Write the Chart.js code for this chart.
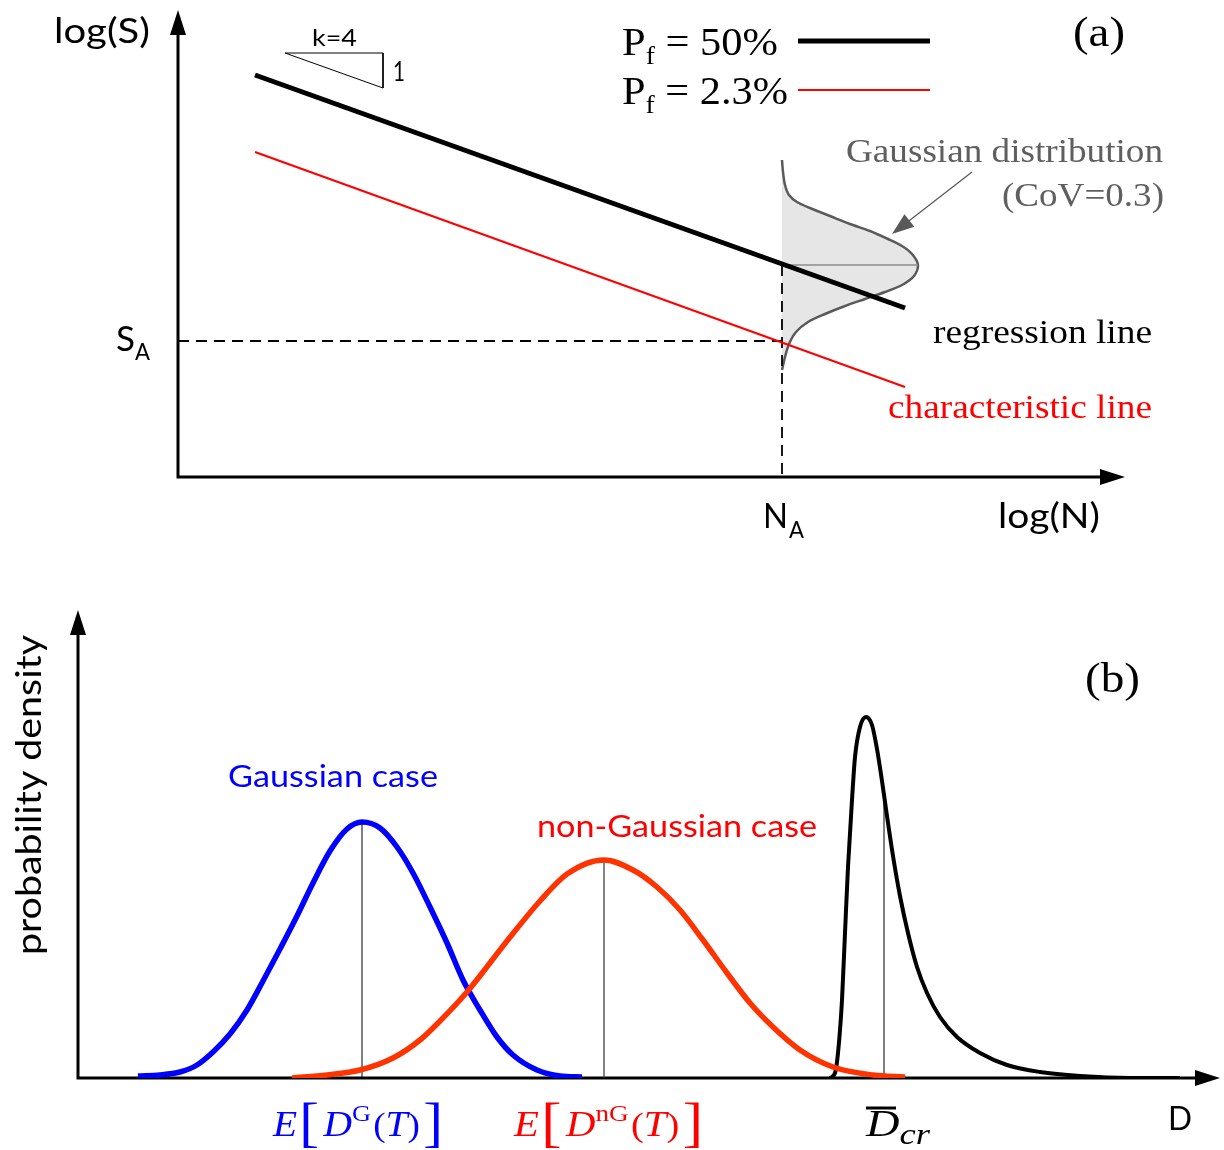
<!DOCTYPE html>
<html>
<head>
<meta charset="utf-8">
<script src="https://cdn.jsdelivr.net/npm/chart.js@4.4.0/dist/chart.umd.min.js"></script>
<style>
  html, body { margin: 0; padding: 0; background: #fff; }
  #wrap { position: relative; width: 1224px; height: 1150px; }
  canvas { position: absolute; left: 0; top: 0; }
</style>
</head>
<body>
<div id="wrap">
  <canvas id="snChart" width="1224" height="1150"></canvas>
  <canvas id="pdfChart" width="1224" height="1150"></canvas>
</div>
<script>
"use strict";

// ---- (a) S-N curve, both axes in log units ----
const regressionX = [0.77, 7.27];
const regressionY = [4.02, 1.69];
const characteristicX = [0.77, 7.27];
const characteristicY = [3.25, 0.90];
const logSA = 1.36;
const logNA = 6.04;
// scatter of log(S) at N_A, drawn sideways from the N_A line
const scatterX = [6.04, 6.05, 6.07, 6.11, 6.19, 6.32, 6.52, 6.72, 6.92, 7.10, 7.24, 7.34, 7.40,
                  7.36, 7.24, 7.07, 6.87, 6.67, 6.47, 6.30, 6.18, 6.11, 6.07, 6.04];
const scatterY = [3.17, 3.05, 2.92, 2.82, 2.75, 2.69, 2.61, 2.53, 2.46, 2.38, 2.31, 2.23, 2.12,
                  2.01, 1.92, 1.85, 1.78, 1.71, 1.63, 1.55, 1.45, 1.33, 1.20, 1.07];
const scatterMean = 2.12;
// slope triangle k=4
const slopeX = [1.07, 2.05, 2.05, 1.07];
const slopeY = [4.24, 4.24, 3.89, 4.24];

// ---- (b) damage densities ----
const gaussD = [0.60, 0.82, 1.02, 1.19, 1.35, 1.52, 1.69, 1.85, 2.02, 2.19, 2.35, 2.52, 2.69, 2.84,
                3.02, 3.19, 3.35, 3.52, 3.69, 3.85, 4.02, 4.19, 4.35, 4.59, 4.82, 5.04];
const gaussP = [0.02, 0.03, 0.06, 0.13, 0.26, 0.44, 0.68, 0.97, 1.29, 1.62, 1.95, 2.27, 2.49, 2.56,
                2.50, 2.31, 2.05, 1.71, 1.35, 0.98, 0.68, 0.41, 0.23, 0.08, 0.02, 0.01];
const nonGaussD = [2.14, 2.49, 2.82, 3.15, 3.42, 3.62, 3.89, 4.29, 4.62, 4.89, 5.26, 5.55, 5.79,
                   6.02, 6.25, 6.49, 6.72, 6.95, 7.22, 7.55, 7.95, 8.27];
const nonGaussP = [0.00, 0.03, 0.08, 0.20, 0.38, 0.57, 0.86, 1.37, 1.77, 2.04, 2.18, 2.08, 1.91,
                   1.68, 1.38, 1.05, 0.75, 0.51, 0.28, 0.11, 0.03, 0.01];
const critD = [7.52, 7.57, 7.60, 7.64, 7.67, 7.70, 7.74, 7.77, 7.82, 7.88, 7.94, 7.99, 8.04, 8.09,
               8.15, 8.22, 8.30, 8.39, 8.49, 8.62, 8.79, 9.02, 9.29, 9.62, 10.02, 10.52, 11.02];
const critP = [0.00, 0.05, 0.25, 0.78, 1.45, 2.11, 2.78, 3.21, 3.51, 3.61, 3.53, 3.29, 2.97, 2.62,
               2.22, 1.82, 1.45, 1.11, 0.85, 0.61, 0.41, 0.25, 0.13, 0.06, 0.02, 0.00, 0.00];
const meanGauss = 2.84;
const meanNonGauss = 5.26;
const meanCrit = 8.06;

const pts = (xs, ys) => xs.map((x, i) => ({ x: x, y: ys[i] }));

function valueAt(xs, ys, x) {
  for (let i = 1; i < xs.length; i++) {
    if (x <= xs[i]) {
      const t = (x - xs[i - 1]) / (xs[i] - xs[i - 1]);
      return ys[i - 1] + t * (ys[i] - ys[i - 1]);
    }
  }
  return ys[ys.length - 1];
}

const SANS = "Lato, 'Open Sans', sans-serif";
const SERIF = "'Liberation Serif', 'DejaVu Serif', serif";

// draw a run of text pieces squeezed/stretched to fit between x0 and x1
function drawParts(ctx, parts, x0, x1, base, color) {
  ctx.save();
  ctx.fillStyle = color;
  ctx.textBaseline = "alphabetic";
  let total = 0;
  const widths = parts.map((p) => {
    ctx.font = p.font;
    const w = ctx.measureText(p.t).width + (p.gap || 0);
    total += w;
    return w;
  });
  ctx.translate(x0, base);
  ctx.scale((x1 - x0) / total, 1);
  let cx = 0;
  parts.forEach((p, i) => {
    ctx.font = p.font;
    ctx.fillText(p.t, cx, p.dy || 0);
    cx += widths[i];
  });
  ctx.restore();
}

function drawText(ctx, t, font, x0, x1, base, color) {
  drawParts(ctx, [{ t: t, font: font }], x0, x1, base, color);
}

// axes with arrow heads along the left and bottom edge of the chart area
const arrowAxes = {
  id: "arrowAxes",
  beforeDatasetsDraw(chart, args, opts) {
    const { ctx, chartArea: a } = chart;
    const h = opts.head, w = opts.half;
    ctx.save();
    ctx.strokeStyle = "#000";
    ctx.fillStyle = "#000";
    ctx.lineWidth = opts.width;
    ctx.beginPath();
    ctx.moveTo(a.left, a.top + h - 2);
    ctx.lineTo(a.left, a.bottom);
    ctx.lineTo(a.right - h + 2, a.bottom);
    ctx.stroke();
    ctx.beginPath();
    ctx.moveTo(a.left, a.top);
    ctx.lineTo(a.left - w, a.top + h);
    ctx.lineTo(a.left + w, a.top + h);
    ctx.closePath();
    ctx.fill();
    ctx.beginPath();
    ctx.moveTo(a.right, a.bottom);
    ctx.lineTo(a.right - h, a.bottom - w);
    ctx.lineTo(a.right - h, a.bottom + w);
    ctx.closePath();
    ctx.fill();
    ctx.restore();
  }
};

const snLabels = {
  id: "snLabels",
  afterDraw(chart) {
    const ctx = chart.ctx;
    const xs = chart.scales.x, ys = chart.scales.y;

    drawText(ctx, "log(S)", "34px " + SANS, 54, 150, 43, "#000");
    drawText(ctx, "log(N)", "34px " + SANS, 998, 1100, 528, "#000");
    drawText(ctx, "k=4", "24px " + SANS, 312, 357, 46, "#000");
    drawText(ctx, "1", "26px " + SANS, 393, 405, 81, "#000");

    const ySA = ys.getPixelForValue(logSA);
    drawText(ctx, "S", "34px " + SANS, 116, 135, ySA + 10, "#000");
    drawText(ctx, "A", "24px " + SANS, 135, 150, ySA + 19, "#000");
    const xNA = xs.getPixelForValue(logNA);
    drawText(ctx, "N", "34px " + SANS, xNA - 19, xNA + 6, 528, "#000");
    drawText(ctx, "A", "24px " + SANS, xNA + 7, xNA + 22, 538, "#000");

    // legend
    drawParts(ctx, [
      { t: "P", font: "40px " + SERIF },
      { t: "f", font: "26px " + SERIF, dy: 9 },
      { t: " = 50%", font: "40px " + SERIF }
    ], 622, 778, 55, "#000");
    drawParts(ctx, [
      { t: "P", font: "40px " + SERIF },
      { t: "f", font: "26px " + SERIF, dy: 9 },
      { t: " = 2.3%", font: "40px " + SERIF }
    ], 622, 788, 104, "#000");
    ctx.save();
    ctx.strokeStyle = "#000";
    ctx.lineWidth = 5;
    ctx.beginPath(); ctx.moveTo(798, 41); ctx.lineTo(930, 41); ctx.stroke();
    ctx.strokeStyle = "#ff0000";
    ctx.lineWidth = 2.2;
    ctx.beginPath(); ctx.moveTo(798, 90); ctx.lineTo(930, 90); ctx.stroke();
    ctx.restore();

    drawText(ctx, "(a)", "42px " + SERIF, 1073, 1125, 46, "#000");
    drawText(ctx, "Gaussian distribution", "34px " + SERIF, 846, 1163, 162, "#5f5f5f");
    drawText(ctx, "(CoV=0.3)", "34px " + SERIF, 1002, 1164, 206, "#5f5f5f");
    drawText(ctx, "regression line", "34px " + SERIF, 933, 1152, 343, "#000");
    drawText(ctx, "characteristic line", "34px " + SERIF, 888, 1152, 418, "#ff0000");

    // pointer to the scatter curve
    ctx.save();
    ctx.strokeStyle = "#595959";
    ctx.fillStyle = "#595959";
    ctx.lineWidth = 1.3;
    const tx = 892, ty = 234, sx = 972, sy = 172;
    const ang = Math.atan2(ty - sy, tx - sx);
    ctx.beginPath(); ctx.moveTo(sx, sy); ctx.lineTo(tx - 18 * Math.cos(ang), ty - 18 * Math.sin(ang)); ctx.stroke();
    ctx.beginPath();
    ctx.moveTo(tx, ty);
    ctx.lineTo(tx - 22 * Math.cos(ang) + 8 * Math.sin(ang), ty - 22 * Math.sin(ang) - 8 * Math.cos(ang));
    ctx.lineTo(tx - 22 * Math.cos(ang) - 8 * Math.sin(ang), ty - 22 * Math.sin(ang) + 8 * Math.cos(ang));
    ctx.closePath();
    ctx.fill();
    ctx.restore();
  }
};

const pdfLabels = {
  id: "pdfLabels",
  afterDraw(chart) {
    const ctx = chart.ctx;
    const xs = chart.scales.x;

    ctx.save();
    ctx.translate(41, 955);
    ctx.rotate(-Math.PI / 2);
    drawText(ctx, "probability density", "34px " + SANS, 0, 320, 0, "#000");
    ctx.restore();

    drawText(ctx, "(b)", "42px " + SERIF, 1085, 1140, 692, "#000");
    drawText(ctx, "Gaussian case", "30px " + SANS, 228, 438, 787, "#0000ff");
    drawText(ctx, "non-Gaussian case", "30px " + SANS, 537, 817, 837, "#ff0000");
    drawText(ctx, "D", "32px " + SANS, 1168, 1192, 1130, "#000");

    const it = "italic 36px " + SERIF;
    const up = "34px " + SERIF;
    const br = "54px " + SERIF;
    const cg = xs.getPixelForValue(meanGauss);
    drawParts(ctx, [
      { t: "E", font: it, gap: 2 },
      { t: "[", font: br, dy: 5, gap: 4 },
      { t: "D", font: it },
      { t: "G", font: "24px " + SERIF, dy: -15, gap: 2 },
      { t: "(", font: up }, { t: "T", font: it }, { t: ")", font: up, gap: 3 },
      { t: "]", font: br, dy: 5 }
    ], cg - 89, cg + 81, 1136, "#0000ff");
    const cn = xs.getPixelForValue(meanNonGauss);
    drawParts(ctx, [
      { t: "E", font: it, gap: 2 },
      { t: "[", font: br, dy: 5, gap: 4 },
      { t: "D", font: it },
      { t: "nG", font: "24px " + SERIF, dy: -15, gap: 2 },
      { t: "(", font: up }, { t: "T", font: it }, { t: ")", font: up, gap: 3 },
      { t: "]", font: br, dy: 5 }
    ], cn - 90, cn + 99, 1136, "#ff0000");
    const cc = xs.getPixelForValue(meanCrit);
    drawParts(ctx, [
      { t: "D", font: "italic 38px " + SERIF },
      { t: "cr", font: "italic 30px " + SERIF, dy: 8 }
    ], cc - 18, cc + 46, 1136, "#000");
    ctx.save();
    ctx.strokeStyle = "#000";
    ctx.lineWidth = 3;
    ctx.beginPath(); ctx.moveTo(cc - 18, 1108); ctx.lineTo(cc + 12, 1108); ctx.stroke();
    ctx.restore();
  }
};

const flatLine = (color, width, order, dash) => ({
  showLine: true, borderColor: color, borderWidth: width, pointRadius: 0,
  fill: false, order: order, borderDash: dash || [], tension: 0
});

new Chart(document.getElementById("snChart"), {
  type: "line",
  data: {
    datasets: [
      Object.assign({ label: "P_f = 50%", data: pts(regressionX, regressionY) }, flatLine("#000", 5, 1)),
      Object.assign({ label: "P_f = 2.3%", data: pts(characteristicX, characteristicY) }, flatLine("#ff0000", 2.2, 2)),
      Object.assign({ label: "S_A", data: [{ x: 0, y: logSA }, { x: logNA, y: logSA }] }, flatLine("#000", 1.8, 3, [11, 7])),
      Object.assign({ label: "N_A", data: [{ x: logNA, y: scatterMean }, { x: logNA, y: 0 }] }, flatLine("#000", 1.8, 3, [11, 7])),
      Object.assign({ label: "mean", data: [{ x: logNA, y: scatterMean }, { x: Math.max(...scatterX), y: scatterMean }] }, flatLine("#8c8c8c", 1.5, 4)),
      Object.assign({ label: "k=4", data: pts(slopeX, slopeY) }, flatLine("#000", 1, 3)),
      {
        label: "Gaussian distribution",
        data: pts(scatterX, scatterY),
        showLine: true,
        borderColor: "#5a5a5a",
        borderWidth: 2.5,
        backgroundColor: "#e6e6e6",
        fill: "shape",
        tension: 0.3,
        pointRadius: 0,
        order: 6
      }
    ]
  },
  options: {
    responsive: false,
    animation: false,
    events: [],
    layout: { padding: { left: 178, right: 99, top: 10, bottom: 673 } },
    scales: {
      x: { type: "linear", min: 0, max: 9.47, display: false },
      y: { type: "linear", min: 0, max: 4.67, display: false }
    },
    plugins: {
      legend: { display: false },
      tooltip: { enabled: false },
      arrowAxes: { width: 3, head: 25, half: 8 }
    }
  },
  plugins: [arrowAxes, snLabels]
});

const curve = (color, width, order) => ({
  showLine: true, borderColor: color, borderWidth: width, pointRadius: 0,
  fill: false, order: order, cubicInterpolationMode: "monotone"
});

new Chart(document.getElementById("pdfChart"), {
  type: "line",
  data: {
    datasets: [
      Object.assign({ label: "Gaussian case", data: pts(gaussD, gaussP) }, curve("#0000ff", 5.5, 2)),
      Object.assign({ label: "non-Gaussian case", data: pts(nonGaussD, nonGaussP) }, curve("#ff3300", 5.5, 1)),
      Object.assign({ label: "D_cr", data: pts(critD, critP) }, curve("#000", 4, 3)),
      Object.assign({ label: "E[D_G]", data: [{ x: meanGauss, y: 0 }, { x: meanGauss, y: Math.max(...gaussP) }] }, flatLine("#000", 1, 4)),
      Object.assign({ label: "E[D_nG]", data: [{ x: meanNonGauss, y: 0 }, { x: meanNonGauss, y: Math.max(...nonGaussP) }] }, flatLine("#333", 1.2, 4)),
      Object.assign({ label: "D_cr mean", data: [{ x: meanCrit, y: 0 }, { x: meanCrit, y: valueAt(critD, critP, meanCrit) }] }, flatLine("#000", 1, 4))
    ]
  },
  options: {
    responsive: false,
    animation: false,
    events: [],
    layout: { padding: { left: 78, right: 4, top: 610, bottom: 72 } },
    scales: {
      x: { type: "linear", min: 0, max: 11.42, display: false },
      y: { type: "linear", min: 0, max: 4.68, display: false }
    },
    plugins: {
      legend: { display: false },
      tooltip: { enabled: false },
      arrowAxes: { width: 3, head: 25, half: 8 }
    }
  },
  plugins: [arrowAxes, pdfLabels]
});
</script>
</body>
</html>
